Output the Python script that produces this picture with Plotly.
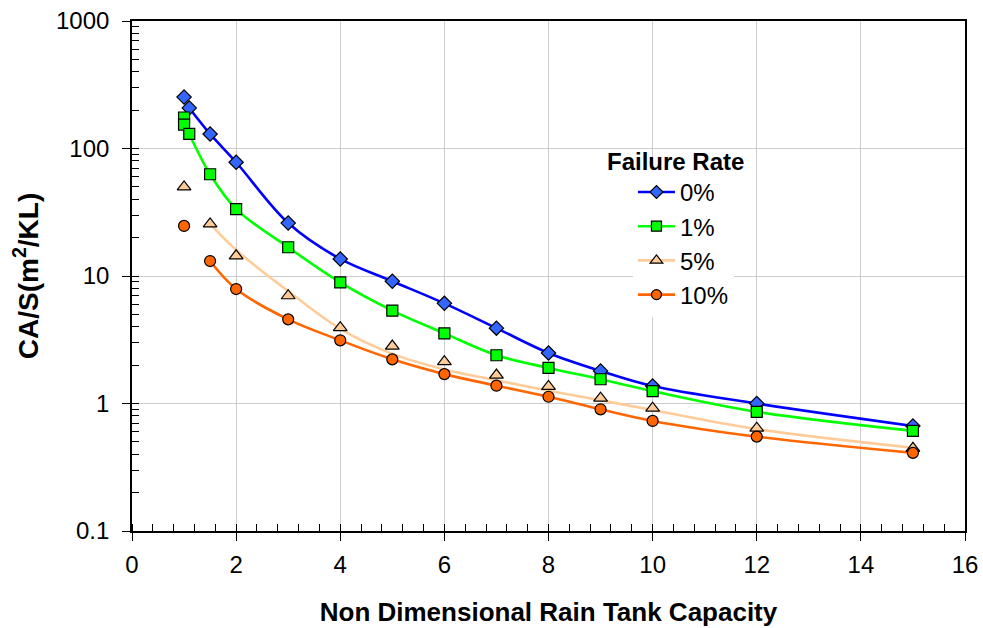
import plotly.graph_objects as go

# ---------------- data ----------------
labels = ["0%", "1%", "5%", "10%"]

x0 = [1, 1.1, 1.5, 2, 3, 4, 5, 6, 7, 8, 9, 10, 12, 15]
y0 = [253, 208, 130, 78, 26, 13.6, 9.1, 6.1, 3.9, 2.49, 1.8, 1.37, 1.0, 0.667]

x1 = [1, 1, 1.1, 1.5, 2, 3, 4, 5, 6, 7, 8, 9, 10, 12, 15]
y1 = [175, 154, 130, 62.8, 33.5, 16.8, 8.9, 5.35, 3.55, 2.39, 1.9, 1.55, 1.25, 0.86, 0.61]

x5 = [1, 1.5, 2, 3, 4, 5, 6, 7, 8, 9, 10, 12, 15]
y5 = [50, 25.6, 14.4, 7.0, 3.93, 2.82, 2.13, 1.67, 1.36, 1.10, 0.92, 0.64, 0.445]

x10 = [1, 1.5, 2, 3, 4, 5, 6, 7, 8, 9, 10, 12, 15]
y10 = [24.7, 13.1, 7.9, 4.57, 3.13, 2.22, 1.70, 1.38, 1.13, 0.90, 0.73, 0.55, 0.41]

# fitted curves (smooth lines)
cx0 = [1.1, 1.5, 2, 3, 4, 5, 6, 7, 8, 9, 10, 12, 15]
cy0 = [208, 130, 78, 26, 13.6, 9.1, 6.1, 3.9, 2.49, 1.8, 1.37, 1.0, 0.667]
cx1 = [1.1, 1.5, 2, 3, 4, 5, 6, 7, 8, 9, 10, 12, 15]
cy1 = [130, 62.8, 33.5, 16.8, 8.9, 5.35, 3.55, 2.39, 1.9, 1.55, 1.25, 0.86, 0.61]
cx5 = [1.5, 2, 3, 4, 5, 6, 7, 8, 9, 10, 12, 15]
cy5 = [25.6, 16.0, 7.6, 3.85, 2.45, 1.85, 1.52, 1.26, 1.06, 0.89, 0.63, 0.45]
cx10 = [1.5, 2, 3, 4, 5, 6, 7, 8, 9, 10, 12, 15]
cy10 = [13.1, 7.9, 4.57, 3.13, 2.22, 1.70, 1.38, 1.13, 0.90, 0.73, 0.55, 0.41]

x_ticks = [0, 2, 4, 6, 8, 10, 12, 14, 16]
y_ticks = [0.1, 1, 10, 100, 1000]
y_tick_text = ["0.1", "1", "10", "100", "1000"]

# ---------------- style ----------------
FONT = "Liberation Sans, Arial, sans-serif"
line_colors = ["#0000FF", "#00FF00", "#FFCC99", "#FF6600"]
marker_colors = ["#3366FF", "#00FF00", "#FFCC99", "#FF6600"]
symbols = ["diamond", "square", "triangle-up", "circle"]
sizes = [11, 11, 12, 11]

mx = [x0, x1, x5, x10]
my = [y0, y1, y5, y10]
cxs = [cx0, cx1, cx5, cx10]
cys = [cy0, cy1, cy5, cy10]

fig = go.Figure()

for i in range(4):
    fig.add_trace(go.Scatter(
        x=cxs[i], y=cys[i], mode="lines",
        line=dict(color=line_colors[i], width=2.6, shape="spline", smoothing=1.0),
        showlegend=False, hoverinfo="skip"))

for i in range(4):
    fig.add_trace(go.Scatter(
        x=mx[i], y=my[i], mode="markers",
        marker=dict(symbol=symbols[i], size=sizes[i], color=marker_colors[i],
                    line=dict(color="black", width=1.2)),
        showlegend=False, name=labels[i]))

for i in range(4):
    fig.add_trace(go.Scatter(
        x=[None], y=[None], mode="lines+markers", name=labels[i],
        line=dict(color=line_colors[i], width=2.6),
        marker=dict(symbol=symbols[i], size=sizes[i] - 1, color=marker_colors[i],
                    line=dict(color="black", width=1.2))))

# overlay axes for the inside half of the (crossing) major ticks
fig.add_trace(go.Scatter(x=[None], y=[None], xaxis="x2", yaxis="y2", showlegend=False, hoverinfo="skip"))

fig.update_layout(
    width=983, height=628,
    margin=dict(l=132, r=18, t=21, b=97),
    paper_bgcolor="white", plot_bgcolor="white",
    font=dict(family=FONT, size=24, color="black"),
    xaxis=dict(
        range=[0, 16], tickvals=x_ticks, ticks="outside", ticklen=8, tickwidth=1.3, tickcolor="black",
        showgrid=True, gridcolor="#CCCCCC", gridwidth=1,
        showline=True, linecolor="black", linewidth=1.6, mirror=True,
        zeroline=False, ticklabelstandoff=3, automargin=False,
        minor=dict(dtick=0.4, ticks="inside", ticklen=7, tickwidth=1.2, tickcolor="black", showgrid=False),
        tickfont=dict(size=24),
        title=dict(text="<b>Non Dimensional Rain Tank Capacity</b>", font=dict(size=26), standoff=26),
    ),
    yaxis=dict(
        type="log", range=[-1, 3], tickvals=y_ticks, ticktext=y_tick_text,
        ticks="outside", ticklen=8, tickwidth=1.3, tickcolor="black",
        showgrid=True, gridcolor="#CCCCCC", gridwidth=1,
        showline=True, linecolor="black", linewidth=1.6, mirror=True,
        zeroline=False, ticklabelstandoff=8, automargin=False,
        minor=dict(ticks="inside", ticklen=7, tickwidth=1.2, tickcolor="black", showgrid=False,
                   tickvals=[m * 10 ** e for e in range(-1, 3) for m in range(2, 10)]),
        tickfont=dict(size=24),
        title=dict(text="<b>CA/S(m<sup>2</sup>/KL)</b>", font=dict(size=28), standoff=9),
    ),
    xaxis2=dict(overlaying="x", anchor="y", range=[0, 16], tickvals=x_ticks, ticks="inside", ticklen=7,
                tickwidth=1.3, tickcolor="black", showticklabels=False, showgrid=False,
                showline=False, zeroline=False, automargin=False),
    yaxis2=dict(overlaying="y", anchor="x", type="log", range=[-1, 3], tickvals=y_ticks, ticks="inside",
                ticklen=7, tickwidth=1.3, tickcolor="black", showticklabels=False, showgrid=False,
                showline=False, zeroline=False, automargin=False),
    legend=dict(
        x=0.6014, y=0.708, xanchor="left", yanchor="top",
        bgcolor="white", borderwidth=0,
        font=dict(size=24), itemwidth=37,
        traceorder="normal",
    ),
    annotations=[dict(
        text="<b>Failure Rate</b>", xref="paper", yref="paper",
        x=(675 - 132) / 833, y=(531 - 161) / 510, xanchor="center", yanchor="middle",
        showarrow=False, font=dict(size=24))],
)

fig.write_html("out.html")
